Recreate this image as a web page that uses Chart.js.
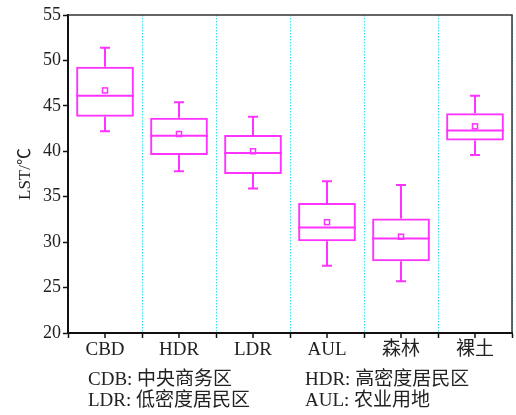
<!DOCTYPE html>
<html>
<head>
<meta charset="utf-8">
<script src="https://cdn.jsdelivr.net/npm/chart.js@4/dist/chart.umd.min.js"></script>
<style>
  html, body { margin: 0; padding: 0; background: #fff; }
  #wrap { position: relative; width: 516px; height: 415px; }
</style>
</head>
<body>
<div id="wrap"><canvas id="c" width="516" height="415"></canvas></div>
<script>
// --- datos ---
const categories = ['CBD', 'HDR', 'LDR', 'AUL', '森林', '裸土'];
const whiskerLow = [42.2, 37.8, 35.9, 27.4, 25.7, 39.6];
const q1 = [43.8, 39.6, 37.5, 30.1, 27.9, 41.2];
const median = [46.1, 41.7, 39.8, 31.6, 30.4, 42.3];
const q3 = [49.3, 43.7, 41.8, 34.3, 32.6, 44.2];
const whiskerHigh = [51.4, 45.4, 43.8, 36.7, 36.3, 46.1];
const mean = [46.7, 41.9, 40.0, 32.2, 30.6, 42.75];
const yTicks = [20, 25, 30, 35, 40, 45, 50, 55];
const notes = [
  ['CDB: 中央商务区', 'HDR: 高密度居民区'],
  ['LDR: 低密度居民区', 'AUL: 农业用地']
];

const MAG = '#ff33ff';
const SERIF = '"Liberation Serif", "Times New Roman", "Noto Sans CJK SC", serif';

// whiskers, mediana, media, marco y notas
const boxExtras = {
  id: 'boxExtras',
  afterDatasetsDraw(chart) {
    const ctx = chart.ctx;
    const y = chart.scales.y;
    const meta = chart.getDatasetMeta(0);
    ctx.save();
    ctx.strokeStyle = MAG;
    ctx.lineWidth = 2;
    meta.data.forEach((bar, i) => {
      const x = bar.x;
      const half = bar.width / 2;
      const cap = 5;
      ctx.beginPath();
      // mediana
      ctx.moveTo(x - half, y.getPixelForValue(median[i]));
      ctx.lineTo(x + half, y.getPixelForValue(median[i]));
      // whisker superior
      ctx.moveTo(x, y.getPixelForValue(q3[i]));
      ctx.lineTo(x, y.getPixelForValue(whiskerHigh[i]));
      ctx.moveTo(x - cap, y.getPixelForValue(whiskerHigh[i]));
      ctx.lineTo(x + cap, y.getPixelForValue(whiskerHigh[i]));
      // whisker inferior
      ctx.moveTo(x, y.getPixelForValue(q1[i]));
      ctx.lineTo(x, y.getPixelForValue(whiskerLow[i]));
      ctx.moveTo(x - cap, y.getPixelForValue(whiskerLow[i]));
      ctx.lineTo(x + cap, y.getPixelForValue(whiskerLow[i]));
      ctx.stroke();
      // media
      ctx.lineWidth = 1.5;
      const my = y.getPixelForValue(mean[i]);
      ctx.strokeRect(x - 2.5, my - 2.5, 5, 5);
      ctx.lineWidth = 2;
    });
    ctx.restore();
  },
  afterDraw(chart) {
    const ctx = chart.ctx;
    const a = chart.chartArea;
    const xs = chart.scales.x;
    ctx.save();
    // marco superior y derecho
    ctx.strokeStyle = '#333';
    ctx.lineWidth = 1.5;
    ctx.beginPath();
    ctx.moveTo(a.left, a.top);
    ctx.lineTo(a.right, a.top);
    ctx.lineTo(a.right, a.bottom);
    ctx.stroke();
    // ticks en el centro de cada categoría
    ctx.strokeStyle = '#111';
    ctx.lineWidth = 1.5;
    ctx.beginPath();
    categories.forEach((c, i) => {
      const px = xs.getPixelForValue(i);
      ctx.moveTo(px, a.bottom);
      ctx.lineTo(px, a.bottom + 5);
    });
    ctx.stroke();
    // notas
    ctx.fillStyle = '#222';
    ctx.font = '19px ' + SERIF;
    ctx.textBaseline = 'middle';
    notes.forEach((row, r) => {
      ctx.fillText(row[0], 88, 380 + r * 21);
      ctx.fillText(row[1], 305, 380 + r * 21);
    });
    ctx.restore();
  }
};

new Chart(document.getElementById('c'), {
  type: 'bar',
  data: {
    labels: categories,
    datasets: [{
      data: q1.map((v, i) => [v, q3[i]]),
      backgroundColor: 'rgba(0,0,0,0)',
      borderColor: MAG,
      borderWidth: 2,
      borderSkipped: false,
      categoryPercentage: 1,
      barPercentage: 0.78
    }]
  },
  options: {
    responsive: false,
    animation: false,
    events: [],
    layout: { padding: { left: 0, right: 4, top: 15, bottom: 50 } },
    plugins: { legend: { display: false }, tooltip: { enabled: false } },
    scales: {
      x: {
        offset: true,
        grid: {
          offset: true,
          color: (c) => (c.index === 0 || c.index === categories.length) ? 'rgba(0,0,0,0)' : '#33e0ee',
          lineWidth: 1,
          tickColor: '#111',
          tickLength: 5,
          tickWidth: 1.5,
          tickBorderDash: [1, 0]
        },
        border: { display: true, color: '#111', width: 2, dash: [1.5, 1.5] },
        ticks: { color: '#222', font: { family: SERIF, size: 19 }, padding: 1 },
        afterFit: (s) => { s.height = 32; }
      },
      y: {
        min: 20,
        max: 55,
        afterBuildTicks: (s) => { s.ticks = yTicks.map(v => ({ value: v })); },
        grid: { drawOnChartArea: false, tickColor: '#111', tickLength: 5, tickWidth: 1.5 },
        border: { display: true, color: '#111', width: 2 },
        ticks: { color: '#222', font: { family: SERIF, size: 18 }, padding: 2 },
        title: { display: true, text: 'LST/℃', color: '#222', font: { family: SERIF, size: 17 }, padding: { top: 15, bottom: 4 } },
        afterFit: (s) => { s.width = 68; }
      }
    }
  },
  plugins: [boxExtras]
});
</script>
</body>
</html>
